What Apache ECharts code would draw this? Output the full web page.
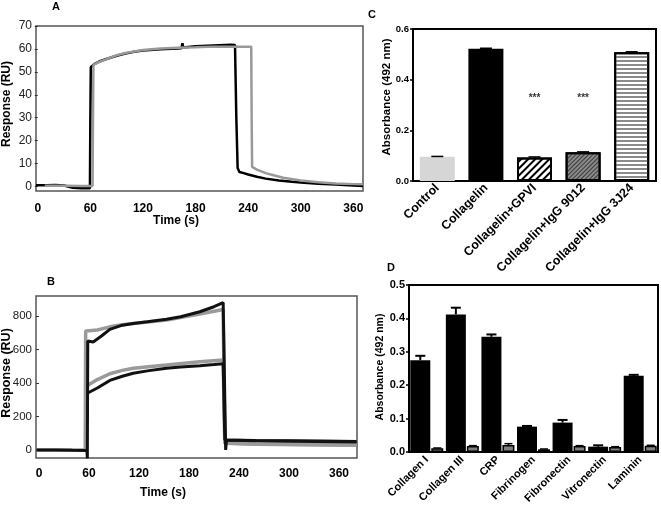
<!DOCTYPE html>
<html><head><meta charset="utf-8">
<script src="https://cdn.jsdelivr.net/npm/echarts@6/dist/echarts.min.js"></script>
<style>html,body{margin:0;padding:0;background:#fff}#c{width:661px;height:512px}</style>
</head><body><div id="c"></div>
<script>
// ---------- Panel A ----------
const aTicksX = [0, 60, 120, 180, 240, 300, 360];
const aTicksY = [0, 10, 20, 30, 40, 50, 60, 70];
const aBlack = [[-2,0.5],[10,0.5],[20,0.6],[30,0.4],[40,-0.6],[50,-0.8],[59.5,-0.8],[60,30],[60.5,52],[65,53.5],[70,54.5],[80,55.8],[90,57],[100,58],[110,58.8],[120,59.3],[140,59.8],[160,60.2],[164,60.3],[165,62.5],[166,60.6],[180,61.2],[200,61.5],[220,61.8],[225,61.7],[226.5,30],[228,8],[230,6.3],[235,5.8],[240,5.2],[250,4.2],[260,3.4],[275,2.6],[290,2],[300,1.7],[320,1.2],[340,0.8],[360,0.4],[371,0.2]];
const aGray = [[8,0.3],[30,0.3],[50,0.2],[62.5,0.2],[63,30],[63.5,53],[70,54.3],[80,55.8],[90,57.2],[100,58.2],[120,59.5],[140,60.2],[160,60.5],[180,60.7],[200,61],[220,61],[243.5,61],[244,30],[244.5,8.5],[250,7.3],[260,5.8],[270,4.8],[280,3.8],[300,2.6],[320,1.8],[340,1.3],[360,1],[371,0.9]];
// ---------- Panel B ----------
const bTicksX = [0, 60, 120, 180, 240, 300, 360];
const bTicksY = [0, 200, 400, 600, 800];
const bBlackUpper = [[-3,0],[20,0],[40,-2],[57.5,-3],[58,-50],[58.5,650],[60,640],[65,645],[75,680],[85,720],[100,745],[113,755],[130,765],[153,780],[170,795],[193,825],[210,855],[221,880],[222.5,880],[224,0],[225,60],[260,56],[300,55],[340,54],[381,50]];
const bBlackLower = [[58.5,340],[60,345],[70,370],[85,415],[100,440],[113,458],[130,472],[153,488],[170,495],[193,503],[210,510],[221,515],[222.5,515],[223,60],[260,55],[381,48]];
const bGrayUpper = [[-3,0],[30,0],[55.5,0],[56,710],[60,712],[70,716],[85,735],[100,748],[113,755],[153,775],[193,812],[221,838],[222,838],[223,42],[260,36],[381,30]];
const bGrayLower = [[56,380],[60,390],[70,420],[85,455],[100,475],[113,488],[153,507],[193,527],[221,537],[222,537],[223,40],[260,34],[381,28]];
// ---------- Panel C ----------
const cCategories = ['Control','Collagelin','Collagelin+GPVI','Collagelin+IgG 9012','Collagelin+IgG 3J24'];
const cValues = [0.096, 0.522, 0.093, 0.113, 0.508];
const cErrors = [0.001, 0.002, 0.002, 0.002, 0.002];
const cStars = ['', '', '***', '***', ''];
const cStarLevel = 0.326;
const cTicksY = [0, 0.2, 0.4, 0.6];
// ---------- Panel D ----------
const dCategories = ['Collagen I','Collagen III','CRP','Fibrinogen','Fibronectin','Vitronectin','Laminin'];
const dBlack = [0.275, 0.412, 0.345, 0.076, 0.088, 0.016, 0.228];
const dBlackErr = [0.013, 0.02, 0.007, 0.002, 0.008, 0.004, 0.003];
const dGray = [0.011, 0.018, 0.021, 0.008, 0.018, 0.015, 0.019];
const dGrayErr = [0.001, 0.001, 0.004, 0.001, 0.001, 0.001, 0.001];
const dTicksY = [0, 0.1, 0.2, 0.3, 0.4, 0.5];

const FONT = '"Liberation Sans", Arial, sans-serif';
const chart = echarts.init(document.getElementById('c'), null, {renderer: 'canvas'});

function errRender(offset, capHalf, lw) {
  return function (params, api) {
    const i = api.value(0), v = api.value(1), e = api.value(2);
    const top = api.coord([i, v + e]);
    const base = api.coord([i, v]);
    const x = top[0] + offset;
    return {type: 'group', children: [
      {type: 'line', shape: {x1: x, y1: base[1], x2: x, y2: top[1]}, style: {stroke: '#000', lineWidth: lw}},
      {type: 'line', shape: {x1: x - capHalf, y1: top[1], x2: x + capHalf, y2: top[1]}, style: {stroke: '#000', lineWidth: lw}}
    ]};
  };
}

const cColors = ['#d6d6d6', '#000', '#fff', '#8a8a8a', '#fff'];
const cDecals = [
  null, null,
  {symbol: 'rect', color: '#000', dashArrayX: [1, 0], dashArrayY: [1.5, 2.5], rotation: -Math.PI / 4, symbolSize: 1},
  {symbol: 'rect', color: '#3a3a3a', dashArrayX: [1, 0], dashArrayY: [1, 1.5], rotation: -Math.PI / 4, symbolSize: 1},
  {symbol: 'rect', color: '#8a8a8a', dashArrayX: [1, 0], dashArrayY: [2, 1.5], rotation: 0, symbolSize: 1}
];

const labelBold = (size) => ({fontFamily: FONT, fontWeight: 'bold', fontSize: size, color: '#000'});

const option = {
  animation: false,
  backgroundColor: '#fff',
  grid: [
    {left: 36, top: 26, width: 327, height: 165, show: true, borderColor: '#555', borderWidth: 1.5, containLabel: false},
    {left: 36, top: 296, width: 321, height: 162, show: true, borderColor: '#555', borderWidth: 1.5, containLabel: false},
    {left: 413, top: 29, width: 243, height: 152, show: true, borderColor: '#000', borderWidth: 2, containLabel: false},
    {left: 409, top: 285, width: 249, height: 167, show: true, borderColor: '#000', borderWidth: 2, containLabel: false}
  ],
  xAxis: [
    {gridIndex: 0, type: 'value', min: -2, max: 371, axisLine: {show: false}, axisTick: {show: false}, splitLine: {show: false},
     axisLabel: {customValues: aTicksX, margin: 12, ...labelBold(12)}},
    {gridIndex: 1, type: 'value', min: -3.6, max: 381.6, axisLine: {show: false}, axisTick: {show: false}, splitLine: {show: false},
     axisLabel: {customValues: bTicksX, margin: 10, ...labelBold(12)}},
    {gridIndex: 2, type: 'category', data: cCategories, axisLine: {show: false}, axisTick: {show: false},
     axisLabel: {rotate: 45, margin: 5, interval: 0, ...labelBold(12.5)}},
    {gridIndex: 3, type: 'category', data: dCategories, axisLine: {show: false}, axisTick: {show: false},
     axisLabel: {rotate: 45, margin: 6, interval: 0, ...labelBold(11)}}
  ],
  yAxis: [
    {gridIndex: 0, type: 'value', min: -2, max: 70, splitLine: {show: false}, axisLine: {show: false},
     axisTick: {show: true, customValues: aTicksY, length: 3, lineStyle: {color: '#333'}},
     axisLabel: {customValues: aTicksY, margin: 4, fontFamily: FONT, fontSize: 12, color: '#222'}},
    {gridIndex: 1, type: 'value', min: -48, max: 919, splitLine: {show: false}, axisLine: {show: false},
     axisTick: {show: true, customValues: bTicksY, length: 3, lineStyle: {color: '#333'}},
     axisLabel: {customValues: bTicksY, margin: 4, fontFamily: FONT, fontSize: 11.5, color: '#222'}},
    {gridIndex: 2, type: 'value', min: 0, max: 0.6, interval: 0.2, splitLine: {show: false}, axisLine: {show: false},
     axisTick: {show: true, length: 3, lineStyle: {color: '#000', width: 1.5}},
     axisLabel: {margin: 4, formatter: v => v.toFixed(1), ...labelBold(9.5)}},
    {gridIndex: 3, type: 'value', min: 0, max: 0.5, interval: 0.1, splitLine: {show: false}, axisLine: {show: false},
     axisTick: {show: true, length: 3, lineStyle: {color: '#000', width: 1.5}},
     axisLabel: {margin: 4, formatter: v => v.toFixed(1), ...labelBold(11)}}
  ],
  series: [
    {type: 'line', xAxisIndex: 0, yAxisIndex: 0, data: aBlack, showSymbol: false, lineStyle: {color: '#000', width: 2.5}},
    {type: 'line', xAxisIndex: 0, yAxisIndex: 0, data: aGray, showSymbol: false, lineStyle: {color: '#999', width: 2.5}},
    {type: 'line', xAxisIndex: 1, yAxisIndex: 1, data: bGrayUpper, showSymbol: false, lineStyle: {color: '#9a9a9a', width: 3.5}},
    {type: 'line', xAxisIndex: 1, yAxisIndex: 1, data: bGrayLower, showSymbol: false, lineStyle: {color: '#9a9a9a', width: 3.5}},
    {type: 'line', xAxisIndex: 1, yAxisIndex: 1, data: bBlackUpper, showSymbol: false, lineStyle: {color: '#111', width: 3}},
    {type: 'line', xAxisIndex: 1, yAxisIndex: 1, data: bBlackLower, showSymbol: false, lineStyle: {color: '#111', width: 3}},
    {type: 'bar', xAxisIndex: 2, yAxisIndex: 2, barWidth: 35,
     data: cValues.map((v, i) => ({value: v, itemStyle: {color: cColors[i], decal: cDecals[i] || undefined,
       borderColor: i === 0 ? cColors[0] : '#000', borderWidth: i === 0 ? 0 : 2}}))},
    {type: 'custom', xAxisIndex: 2, yAxisIndex: 2, renderItem: errRender(0, 6, 1.5),
     data: cValues.map((v, i) => [i, v, cErrors[i]]), z: 5},
    {type: 'scatter', xAxisIndex: 2, yAxisIndex: 2, symbolSize: 0,
     data: cStars.map((s, i) => [i, cStarLevel]).filter((d, i) => cStars[i] !== ''),
     label: {show: true, position: 'inside', formatter: '***', ...labelBold(10)}},
    {type: 'bar', xAxisIndex: 3, yAxisIndex: 3, barWidth: 20, barGap: '5%', data: dBlack, itemStyle: {color: '#000'}},
    {type: 'bar', xAxisIndex: 3, yAxisIndex: 3, barWidth: 12, barGap: '5%', data: dGray, itemStyle: {color: '#7f7f7f', borderColor: '#000', borderWidth: 1.5}},
    {type: 'custom', xAxisIndex: 3, yAxisIndex: 3, renderItem: errRender(-6.5, 5, 2),
     data: dBlack.map((v, i) => [i, v, dBlackErr[i]]), z: 5},
    {type: 'custom', xAxisIndex: 3, yAxisIndex: 3, renderItem: errRender(10.5, 4, 1.5),
     data: dGray.map((v, i) => [i, v, dGrayErr[i]]), z: 5}
  ],
  graphic: [
    {type: 'text', left: 52, top: 1, style: {text: 'A', font: 'bold 11px ' + FONT, fill: '#000'}},
    {type: 'text', x: 7, y: 104, rotation: Math.PI / 2, style: {text: 'Response (RU)', font: 'bold 12px ' + FONT, fill: '#000', align: 'center', verticalAlign: 'middle'}},
    {type: 'text', x: 176, y: 221, style: {text: 'Time (s)', font: 'bold 12px ' + FONT, fill: '#000', align: 'center', verticalAlign: 'middle'}},
    {type: 'text', left: 47, top: 276, style: {text: 'B', font: 'bold 11px ' + FONT, fill: '#000'}},
    {type: 'text', x: 7, y: 373, rotation: Math.PI / 2, style: {text: 'Response (RU)', font: 'bold 12.5px ' + FONT, fill: '#000', align: 'center', verticalAlign: 'middle'}},
    {type: 'text', x: 163, y: 493, style: {text: 'Time (s)', font: 'bold 12px ' + FONT, fill: '#000', align: 'center', verticalAlign: 'middle'}},
    {type: 'text', left: 368, top: 9, style: {text: 'C', font: 'bold 11px ' + FONT, fill: '#000'}},
    {type: 'text', x: 386.5, y: 97, rotation: Math.PI / 2, style: {text: 'Absorbance (492 nm)', font: 'bold 11.5px ' + FONT, fill: '#000', align: 'center', verticalAlign: 'middle'}},
    {type: 'text', left: 387, top: 262, style: {text: 'D', font: 'bold 11px ' + FONT, fill: '#000'}},
    {type: 'text', x: 380, y: 367, rotation: Math.PI / 2, style: {text: 'Absorbance (492 nm)', font: 'bold 10.5px ' + FONT, fill: '#000', align: 'center', verticalAlign: 'middle'}}
  ]
};
chart.setOption(option);
</script></body></html>
